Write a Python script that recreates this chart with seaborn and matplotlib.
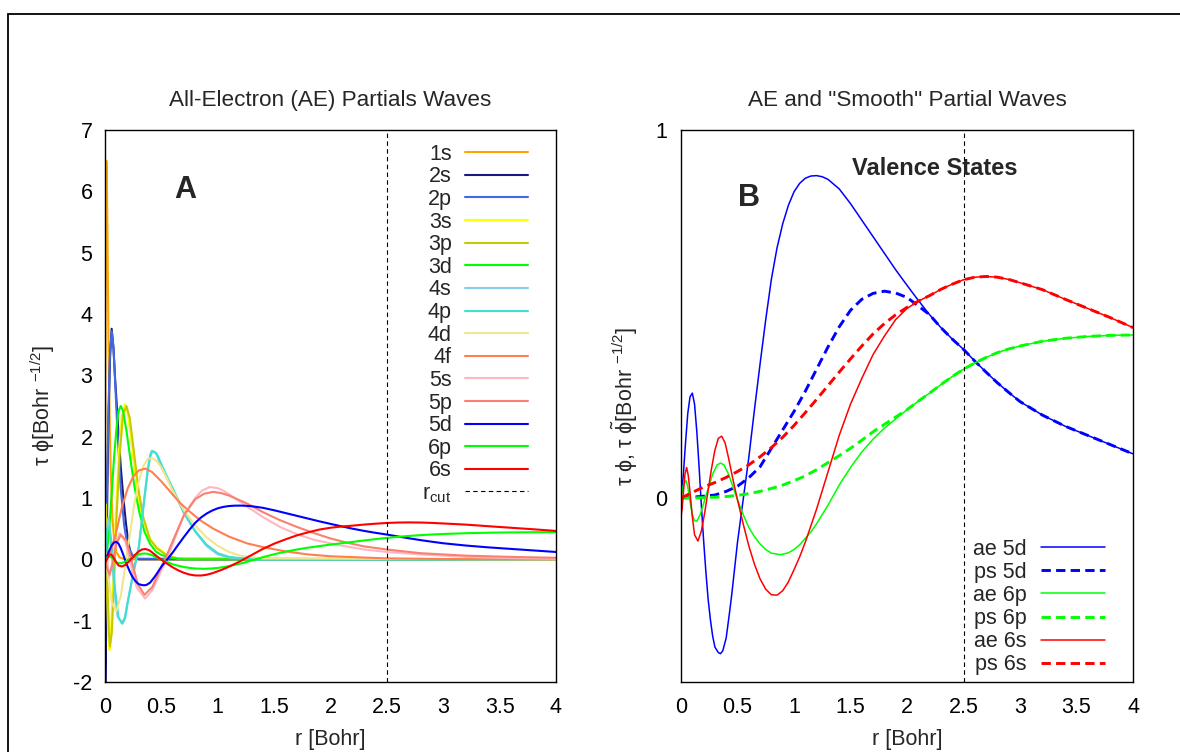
import matplotlib
matplotlib.use("Agg")
import matplotlib.pyplot as plt
import seaborn as sns
from matplotlib.patches import Rectangle

# ------------------------------------------------------------------
# Panel A : all-electron partial waves (r in Bohr, value of tau*phi)
# ------------------------------------------------------------------
r_1s = [0, 0.004, 0.008, 0.012, 0.016, 0.022, 0.03, 0.04, 0.05, 0.065, 0.08, 0.1, 0.13, 0.18, 0.3, 4.0]
v_1s = [0, 3.0, 5.6, 6.5, 6.3, 5.3, 3.7, 2.4, 1.5, 0.7, 0.35, 0.12, 0.03, 0.0, 0.0, 0.0]

r_2s = [0, 0.003, 0.007, 0.012, 0.02, 0.03, 0.045, 0.059, 0.075, 0.09, 0.105, 0.118, 0.14, 0.162, 0.185, 0.207, 0.23, 0.3, 4.0]
v_2s = [0, -2.1, -1.5, -0.2, 1.0, 2.2, 3.3, 3.76, 3.45, 2.93, 2.5, 2.11, 1.5, 1.02, 0.6, 0.27, 0.08, 0.0, 0.0]

r_2p = [0, 0.01, 0.02, 0.03, 0.045, 0.06, 0.075, 0.09, 0.11, 0.14, 0.17, 0.2, 0.25, 0.3, 4.0]
v_2p = [0, 0.5, 1.4, 2.4, 3.4, 3.72, 3.45, 2.9, 2.1, 1.15, 0.55, 0.22, 0.05, 0.01, 0.0]

r_3s = [0, 0.006, 0.012, 0.02, 0.03, 0.04, 0.055, 0.075, 0.1, 0.125, 0.15, 0.177, 0.2, 0.23, 0.26, 0.3, 0.34, 0.4, 0.46, 0.55, 0.65, 4.0]
v_3s = [0, 0.9, 0.3, -0.7, -1.3, -1.48, -1.1, -0.2, 0.9, 1.8, 2.35, 2.53, 2.4, 2.0, 1.5, 0.95, 0.62, 0.33, 0.2, 0.07, 0.01, 0.0]

r_3p = [0, 0.008, 0.016, 0.025, 0.035, 0.045, 0.06, 0.08, 0.1, 0.13, 0.16, 0.19, 0.22, 0.26, 0.3, 0.34, 0.4, 0.46, 0.55, 0.65, 4.0]
v_3p = [0, 0.5, 0.2, -0.6, -1.2, -1.42, -1.2, -0.4, 0.6, 1.7, 2.35, 2.5, 2.3, 1.7, 1.1, 0.68, 0.32, 0.18, 0.06, 0.01, 0.0]

r_3d = [0, 0.02, 0.04, 0.06, 0.08, 0.1, 0.12, 0.14, 0.16, 0.19, 0.22, 0.26, 0.3, 0.35, 0.4, 0.45, 0.5, 0.6, 0.7, 4.0]
v_3d = [0, 0.15, 0.55, 1.1, 1.65, 2.1, 2.42, 2.5, 2.42, 2.1, 1.7, 1.2, 0.8, 0.45, 0.25, 0.13, 0.07, 0.02, 0.0, 0.0]

r_4s = [0, 0.015, 0.03, 0.05, 0.08, 0.11, 0.148, 0.175, 0.2, 0.25, 0.3, 0.33, 0.35, 0.38, 0.4, 0.415, 0.44, 0.46, 0.5, 0.55, 0.6, 0.7, 0.8, 0.9, 1.0, 1.1, 1.3, 4.0]
v_4s = [0, 0.45, 0.68, 0.35, -0.45, -0.92, -1.04, -0.95, -0.7, -0.25, 0.2, 0.7, 1.02, 1.48, 1.7, 1.77, 1.75, 1.7, 1.5, 1.33, 1.15, 0.75, 0.45, 0.22, 0.08, 0.03, 0.0, 0.0]

r_4p = [0, 0.02, 0.04, 0.06, 0.09, 0.12, 0.155, 0.18, 0.2, 0.25, 0.3, 0.33, 0.35, 0.38, 0.4, 0.42, 0.44, 0.46, 0.5, 0.55, 0.6, 0.7, 0.8, 0.9, 1.0, 1.1, 1.3, 4.0]
v_4p = [0, 0.5, 0.55, 0.2, -0.5, -0.95, -1.05, -0.95, -0.72, -0.22, 0.2, 0.68, 1.0, 1.45, 1.67, 1.76, 1.75, 1.72, 1.55, 1.35, 1.16, 0.77, 0.46, 0.24, 0.1, 0.04, 0.0, 0.0]

r_4d = [0, 0.03, 0.06, 0.1, 0.14, 0.18, 0.22, 0.26, 0.3, 0.34, 0.38, 0.42, 0.46, 0.5, 0.55, 0.6, 0.7, 0.8, 0.9, 1.0, 1.1, 1.2, 1.4, 4.0]
v_4d = [0, -0.3, -0.7, -0.85, -0.6, -0.1, 0.4, 0.9, 1.28, 1.52, 1.64, 1.65, 1.6, 1.5, 1.32, 1.12, 0.8, 0.55, 0.36, 0.22, 0.12, 0.06, 0.015, 0.0]

r_4f = [0, 0.05, 0.1, 0.15, 0.2, 0.25, 0.3, 0.36, 0.42, 0.5, 0.58, 0.665, 0.75, 0.85, 0.96, 1.1, 1.26, 1.4, 1.6, 1.8, 2.0, 2.5, 3.0, 4.0]
v_4f = [0, 0.12, 0.45, 0.85, 1.15, 1.35, 1.45, 1.48, 1.42, 1.27, 1.1, 0.92, 0.78, 0.63, 0.5, 0.37, 0.26, 0.2, 0.13, 0.08, 0.05, 0.015, 0.005, 0.0]

r_5s = [0, 0.015, 0.035, 0.06, 0.09, 0.13, 0.18, 0.23, 0.28, 0.355, 0.42, 0.5, 0.55, 0.6, 0.7, 0.8, 0.86, 0.93, 1.0, 1.05, 1.15, 1.26, 1.4, 1.55, 1.7, 1.85, 2.0, 2.14, 2.3, 2.5, 2.8, 3.2, 3.6, 4.0]
v_5s = [0, 0.1, -0.3, -0.1, 0.25, 0.43, 0.3, -0.1, -0.45, -0.64, -0.5, -0.18, 0.0, 0.25, 0.72, 1.0, 1.12, 1.18, 1.16, 1.12, 1.0, 0.86, 0.69, 0.53, 0.41, 0.32, 0.26, 0.21, 0.16, 0.12, 0.08, 0.04, 0.02, 0.01]

r_5p = [0, 0.02, 0.04, 0.07, 0.1, 0.14, 0.19, 0.24, 0.29, 0.35, 0.42, 0.5, 0.56, 0.62, 0.7, 0.8, 0.88, 0.96, 1.03, 1.1, 1.26, 1.4, 1.55, 1.7, 1.85, 2.0, 2.15, 2.3, 2.5, 2.8, 3.2, 3.6, 4.0]
v_5p = [0, -0.15, -0.25, -0.05, 0.25, 0.4, 0.3, -0.05, -0.4, -0.58, -0.45, -0.12, 0.12, 0.38, 0.72, 0.98, 1.07, 1.10, 1.08, 1.04, 0.91, 0.77, 0.64, 0.53, 0.43, 0.34, 0.27, 0.21, 0.16, 0.1, 0.06, 0.04, 0.025]

# ------------------------------------------------------------------
# Valence states (shared by panel A and panel B): all-electron (ae)
# ------------------------------------------------------------------
r_ae5d = [0, 0.02, 0.04, 0.06, 0.08, 0.1, 0.12, 0.14, 0.16, 0.18, 0.2, 0.22, 0.24, 0.26, 0.28, 0.3, 0.33, 0.35, 0.37, 0.4,
          0.43, 0.45, 0.5, 0.55, 0.6, 0.65, 0.7, 0.75, 0.8, 0.85, 0.9, 0.95, 1.0, 1.05, 1.1, 1.15, 1.2, 1.25, 1.3, 1.4,
          1.5, 1.6, 1.7, 1.8, 1.9, 2.0, 2.1, 2.2, 2.3, 2.4, 2.5, 2.6, 2.7, 2.8, 2.9, 3.0, 3.2, 3.4, 3.6, 3.8, 4.0]
v_ae5d = [0, 0.06, 0.15, 0.23, 0.275, 0.285, 0.255, 0.18, 0.085, -0.02, -0.115, -0.2, -0.275, -0.33, -0.375, -0.405, -0.42, -0.423, -0.415, -0.38,
          -0.31, -0.26, -0.12, -0.005, 0.11, 0.24, 0.365, 0.485, 0.595, 0.68, 0.745, 0.795, 0.832, 0.855, 0.869, 0.875, 0.876, 0.873, 0.866, 0.84,
          0.80, 0.755, 0.71, 0.665, 0.62, 0.578, 0.537, 0.498, 0.463, 0.432, 0.404, 0.372, 0.342, 0.313, 0.287, 0.262, 0.225, 0.195, 0.17, 0.145, 0.12]

r_ae6p = [0, 0.02, 0.044, 0.06, 0.08, 0.1, 0.12, 0.14, 0.17, 0.2, 0.24, 0.28, 0.32, 0.35, 0.38, 0.42, 0.46, 0.5, 0.55, 0.6,
          0.65, 0.7, 0.75, 0.8, 0.88, 0.95, 1.0, 1.05, 1.1, 1.15, 1.2, 1.3, 1.4, 1.5, 1.6, 1.7, 1.8, 1.9, 2.0, 2.1,
          2.2, 2.3, 2.4, 2.5, 2.6, 2.7, 2.8, 2.9, 3.0, 3.2, 3.4, 3.6, 3.8, 4.0]
v_ae6p = [0, 0.035, 0.047, 0.03, -0.01, -0.045, -0.062, -0.063, -0.045, -0.015, 0.025, 0.065, 0.09, 0.095, 0.09, 0.065, 0.03, -0.005, -0.045, -0.08,
          -0.105, -0.125, -0.14, -0.15, -0.154, -0.149, -0.14, -0.127, -0.11, -0.092, -0.07, -0.02, 0.035, 0.083, 0.125, 0.16, 0.19, 0.215, 0.24, 0.263,
          0.285, 0.308, 0.33, 0.35, 0.367, 0.382, 0.395, 0.405, 0.413, 0.426, 0.434, 0.439, 0.442, 0.443]

r_ae6s = [0, 0.01, 0.02, 0.035, 0.05, 0.065, 0.08, 0.1, 0.12, 0.15, 0.18, 0.21, 0.24, 0.27, 0.3, 0.33, 0.36, 0.39, 0.42, 0.46,
          0.5, 0.55, 0.6, 0.65, 0.7, 0.75, 0.8, 0.85, 0.9, 0.95, 1.0, 1.05, 1.1, 1.2, 1.3, 1.4, 1.5, 1.6, 1.7, 1.8,
          1.9, 2.0, 2.1, 2.2, 2.3, 2.4, 2.5, 2.6, 2.7, 2.8, 2.9, 3.0, 3.2, 3.4, 3.6, 3.8, 4.0]
v_ae6s = [-0.05, -0.03, 0.01, 0.065, 0.083, 0.06, 0.015, -0.05, -0.1, -0.117, -0.09, -0.04, 0.02, 0.08, 0.13, 0.162, 0.168, 0.15, 0.11, 0.05,
          -0.005, -0.07, -0.13, -0.18, -0.22, -0.248, -0.263, -0.264, -0.252, -0.228, -0.195, -0.16, -0.12, -0.03, 0.07, 0.17, 0.255, 0.325, 0.39, 0.44,
          0.485, 0.515, 0.535, 0.55, 0.567, 0.581, 0.593, 0.6, 0.602, 0.6, 0.594, 0.585, 0.566, 0.54, 0.515, 0.49, 0.463]

# pseudo ("smooth") partial waves inside the matching radius; they join the ae waves beyond
r_ps5d = [0, 0.1, 0.2, 0.3, 0.4, 0.5, 0.6, 0.7, 0.8, 0.9, 1.0, 1.1, 1.2, 1.3, 1.4, 1.5, 1.6, 1.7, 1.8, 1.9, 2.0, 2.1, 2.2]
v_ps5d = [0, 0.002, 0.005, 0.008, 0.018, 0.032, 0.055, 0.085, 0.135, 0.185, 0.235, 0.29, 0.35, 0.41, 0.465, 0.51, 0.54, 0.556, 0.562, 0.557, 0.545, 0.522, 0.498]

r_ps6p = [0, 0.1, 0.2, 0.3, 0.4, 0.5, 0.6, 0.7, 0.8, 0.9, 1.0, 1.1, 1.2, 1.3, 1.4, 1.5, 1.6, 1.7, 1.8, 1.9, 2.0, 2.1, 2.2]
v_ps6p = [0, 0.0, 0.001, 0.002, 0.004, 0.007, 0.012, 0.018, 0.026, 0.035, 0.047, 0.06, 0.077, 0.096, 0.115, 0.135, 0.157, 0.18, 0.2, 0.22, 0.24, 0.263, 0.285]

r_ps6s = [0, 0.1, 0.2, 0.3, 0.4, 0.5, 0.6, 0.7, 0.8, 0.9, 1.0, 1.1, 1.2, 1.3, 1.4, 1.5, 1.6, 1.7, 1.8, 1.9, 2.0, 2.1, 2.2]
v_ps6s = [0, 0.015, 0.03, 0.042, 0.056, 0.072, 0.09, 0.112, 0.137, 0.165, 0.197, 0.232, 0.268, 0.305, 0.342, 0.378, 0.413, 0.446, 0.474, 0.498, 0.518, 0.535, 0.55]

r_cut = 2.5

states_A = ["1s", "2s", "2p", "3s", "3p", "3d", "4s", "4p", "4d", "4f", "5s", "5p", "5d", "6p", "6s"]
colors_A = ["#ffa500", "#191980", "#4169e1", "#ffff00", "#c8c800", "#00ff00", "#87ceeb", "#40e0d0",
            "#f0e68c", "#ff7f50", "#ffb6c1", "#fa8072", "#0000ff", "#00ff00", "#ff0000"]
curves_A = [(r_1s, v_1s), (r_2s, v_2s), (r_2p, v_2p), (r_3s, v_3s), (r_3p, v_3p), (r_3d, v_3d),
            (r_4s, v_4s), (r_4p, v_4p), (r_4d, v_4d), (r_4f, v_4f), (r_5s, v_5s), (r_5p, v_5p),
            (r_ae5d, v_ae5d), (r_ae6p, v_ae6p), (r_ae6s, v_ae6s)]

labels_B = ["ae 5d", "ps 5d", "ae 6p", "ps 6p", "ae 6s", "ps 6s"]
colors_B = ["#0000ff", "#0000ff", "#00ff00", "#00ff00", "#ff0000", "#ff0000"]

x_ticks = [0, 0.5, 1, 1.5, 2, 2.5, 3, 3.5, 4]
x_ticklabels = ["0", "0.5", "1", "1.5", "2", "2.5", "3", "3.5", "4"]
yA_ticks = [-2, -1, 0, 1, 2, 3, 4, 5, 6, 7]
yA_ticklabels = ["-2", "-1", "0", "1", "2", "3", "4", "5", "6", "7"]
yB_ticks = [0, 1]
yB_ticklabels = ["0", "1"]


def join_tail(r_in, v_in, r_ae, v_ae):
    """pseudo wave inside the matching radius followed by the ae wave outside it"""
    rr = list(r_in) + [r for r in r_ae if r > r_in[-1]]
    vv = list(v_in) + [v for r, v in zip(r_ae, v_ae) if r > r_in[-1]]
    return rr, vv


curves_B = [(r_ae5d, v_ae5d), join_tail(r_ps5d, v_ps5d, r_ae5d, v_ae5d),
            (r_ae6p, v_ae6p), join_tail(r_ps6p, v_ps6p, r_ae6p, v_ae6p),
            (r_ae6s, v_ae6s), join_tail(r_ps6s, v_ps6s, r_ae6s, v_ae6s)]

# ------------------------------------------------------------------
sns.set_style("white")
plt.rcParams["font.family"] = ["Liberation Sans", "DejaVu Sans"]
plt.rcParams["mathtext.fontset"] = "custom"
plt.rcParams["mathtext.rm"] = "Liberation Sans"
plt.rcParams["mathtext.it"] = "Liberation Sans"
plt.rcParams["mathtext.bf"] = "Liberation Sans:bold"
plt.rcParams["axes.unicode_minus"] = False

FS = 15.5
fig = plt.figure(figsize=(11.8, 7.52), dpi=100)
fig.patch.set_facecolor("white")
axA = fig.add_axes([105 / 1180, 70 / 752, 451 / 1180, 552 / 752])
axB = fig.add_axes([681 / 1180, 70 / 752, 452 / 1180, 552 / 752])

# outer frame
fig.patches.append(Rectangle((8 / 1180, -0.2), 1.5, 0.2 + (752 - 14) / 752, transform=fig.transFigure,
                             fill=False, edgecolor="black", lw=1.3, clip_on=False))

# ---- panel A ----
for name, col, (rr, vv) in zip(states_A, colors_A, curves_A):
    sns.lineplot(x=rr, y=vv, ax=axA, color=col, lw=1.5, label=name, estimator=None, sort=False)
axA.axvline(r_cut, color="black", lw=0.8, ls=(0, (4, 3)), label=r"r$_{\mathregular{cut}}$")
axA.set_xlim(0, 4)
axA.set_ylim(-2, 7)
axA.set_xticks(x_ticks)
axA.set_xticklabels(x_ticklabels)
axA.set_yticks(yA_ticks)
axA.set_yticklabels(yA_ticklabels)
axA.set_title("All-Electron (AE) Partials Waves", fontsize=16.2, pad=17)
axA.set_xlabel("r [Bohr]", fontsize=FS, labelpad=8)
axA.set_ylabel("τ ϕ[Bohr $^{-1/2}$]", fontsize=FS, labelpad=12)
axA.text(0.177, 0.891, "A", transform=axA.transAxes, fontsize=22, fontweight="bold", ha="center", va="center")
axA.legend(loc="upper right", bbox_to_anchor=(0.938, 0.975), frameon=False, markerfirst=False,
           fontsize=FS, handlelength=2.95, handletextpad=0.6, labelspacing=0.075,
           borderpad=0, borderaxespad=0)

# ---- panel B ----
for name, col, (rr, vv) in zip(labels_B, colors_B, curves_B):
    if name.startswith("ae"):
        sns.lineplot(x=rr, y=vv, ax=axB, color=col, lw=1.1, label=name, estimator=None, sort=False)
    else:
        sns.lineplot(x=rr, y=vv, ax=axB, color=col, lw=2.1, ls=(0, (3.2, 1.8)), label=name,
                     estimator=None, sort=False)
axB.axvline(r_cut, color="black", lw=0.8, ls=(0, (4, 3)))
axB.set_xlim(0, 4)
axB.set_ylim(-0.5, 1)
axB.set_xticks(x_ticks)
axB.set_xticklabels(x_ticklabels)
axB.set_yticks(yB_ticks)
axB.set_yticklabels(yB_ticklabels)
axB.set_title('AE and "Smooth" Partial Waves', fontsize=16.2, pad=17)
axB.set_xlabel("r [Bohr]", fontsize=FS, labelpad=8)
axB.set_ylabel(r"τ ϕ, τ $\tilde{\phi}$[Bohr $^{-1/2}$]", fontsize=FS, labelpad=11)
axB.text(0.150, 0.877, "B", transform=axB.transAxes, fontsize=22, fontweight="bold", ha="center", va="center")
axB.text(0.562, 0.931, "Valence States", transform=axB.transAxes, fontsize=17, fontweight="bold",
         ha="center", va="center")
axB.legend(loc="lower right", bbox_to_anchor=(0.938, 0.012), frameon=False, markerfirst=False,
           fontsize=FS, handlelength=2.95, handletextpad=0.7, labelspacing=0.1,
           borderpad=0, borderaxespad=0)

for ax in (axA, axB):
    for s in ax.spines.values():
        s.set_visible(True)
        s.set_color("black")
        s.set_linewidth(1.0)
    ax.tick_params(axis="both", direction="in", labelsize=FS, colors="black")
    ax.tick_params(axis="x", length=7, width=1, pad=11)
    ax.tick_params(axis="y", length=6, width=1, pad=9)
    ax.tick_params(top=False, right=False)
axB.tick_params(axis="y", length=4, pad=10)

fig.savefig("out.png", dpi=100, facecolor="white")
